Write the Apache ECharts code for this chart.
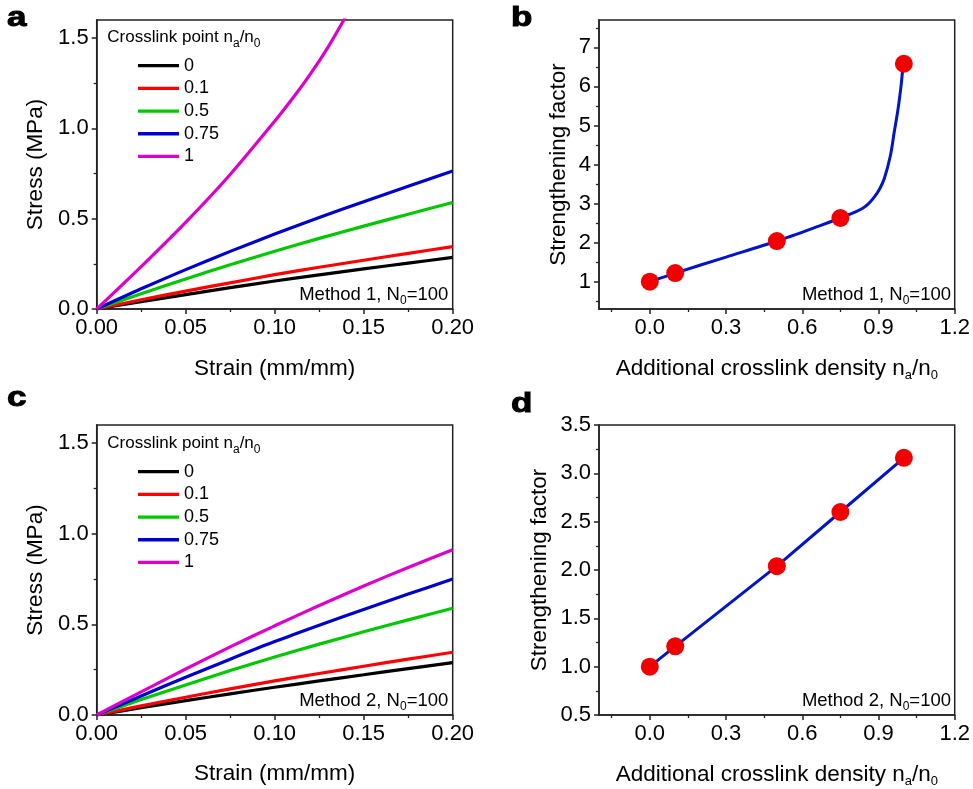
<!DOCTYPE html>
<html>
<head>
<meta charset="utf-8">
<script src="https://cdn.jsdelivr.net/npm/echarts@6/dist/echarts.min.js"></script>
<style>html,body{margin:0;padding:0;background:#fff;}#c{width:973px;height:789px;}</style>
</head>
<body>
<div id="c"></div>
<script>
// ---------- data ----------
const seriesNames = ['0', '0.1', '0.5', '0.75', '1'];
const strain = [0, 0.025, 0.05, 0.075, 0.1, 0.125, 0.15, 0.175, 0.2];
const strainMagentaA = [0, 0.025, 0.05, 0.075, 0.1, 0.11, 0.12, 0.13, 0.14];
// Panel a (Method 1)
const stressA0 = [0, 0.041, 0.080, 0.118, 0.155, 0.189, 0.222, 0.254, 0.286];
const stressA01 = [0, 0.051, 0.099, 0.145, 0.190, 0.231, 0.270, 0.308, 0.345];
const stressA05 = [0, 0.085, 0.166, 0.245, 0.320, 0.391, 0.459, 0.525, 0.590];
const stressA075 = [0, 0.112, 0.218, 0.319, 0.415, 0.506, 0.594, 0.680, 0.764];
const stressA1 = [0, 0.235, 0.480, 0.745, 1.040, 1.165, 1.300, 1.450, 1.620];
// Panel c (Method 2)
const stressC0 = [0, 0.040, 0.079, 0.117, 0.153, 0.188, 0.222, 0.256, 0.289];
const stressC01 = [0, 0.050, 0.098, 0.144, 0.188, 0.229, 0.269, 0.308, 0.346];
const stressC05 = [0, 0.085, 0.166, 0.245, 0.320, 0.391, 0.459, 0.525, 0.589];
const stressC075 = [0, 0.105, 0.208, 0.308, 0.405, 0.495, 0.582, 0.667, 0.750];
const stressC1 = [0, 0.128, 0.254, 0.376, 0.492, 0.604, 0.712, 0.814, 0.912];
// Panels b, d
const density = [0, 0.1, 0.5, 0.75, 1.0];
const factorB = [1.0, 1.22, 2.04, 2.63, 6.58];
const factorD = [1.0, 1.21, 2.04, 2.60, 3.16];
const curveBx = [0, 0.1, 0.3, 0.5, 0.668, 0.75, 0.8, 0.838, 0.86, 0.884, 0.905, 0.923, 0.947, 0.962, 0.977, 0.989, 0.995, 1.0];
const curveBy = [1.0, 1.22, 1.63, 2.04, 2.43, 2.63, 2.76, 2.88, 2.99, 3.17, 3.38, 3.64, 4.23, 4.83, 5.42, 6.02, 6.40, 6.58];
// tick labels
const strainTicks = [0, 0.05, 0.1, 0.15, 0.2];
const strainMinor = [0.025, 0.075, 0.125, 0.175];
const stressTicks = [0, 0.5, 1.0, 1.5];
const stressMinor = [0.25, 0.75, 1.25];
const densityTicks = [0, 0.3, 0.6, 0.9, 1.2];
const densityMinor = [-0.15, 0.15, 0.45, 0.75, 1.05];
const factorBTicks = [1, 2, 3, 4, 5, 6, 7];
const factorBMinor = [0.5, 1.5, 2.5, 3.5, 4.5, 5.5, 6.5, 7.5];
const factorDTicks = [0.5, 1.0, 1.5, 2.0, 2.5, 3.0, 3.5];
const factorDMinor = [0.75, 1.25, 1.75, 2.25, 2.75, 3.25];

// ---------- styling ----------
const FONT = '"Liberation Sans", Arial, sans-serif';
const AX = '#222';
const colors = ['#000000', '#ff0000', '#00c800', '#0000cc', '#dd00cc'];
const zip = (xs, ys) => xs.map((x, i) => [x, ys[i]]);

function mainAxis(g, pos, min, max, ticks, fmt, name, nameGap, rich) {
  return {
    type: 'value', gridIndex: g, position: pos, min: min, max: max,
    axisLine: { show: true, onZero: false, lineStyle: { color: AX, width: 1.5 } },
    axisTick: { show: true, inside: false, length: 5, customValues: ticks, lineStyle: { color: AX, width: 1.5 } },
    axisLabel: { customValues: ticks, formatter: fmt, fontSize: 22, color: '#000', fontFamily: FONT, margin: 8 },
    splitLine: { show: false },
    name: name, nameLocation: 'middle', nameGap: nameGap,
    nameTextStyle: { fontSize: 22.5, color: '#000', fontFamily: FONT, rich: rich || {} }
  };
}
function minorAxis(g, pos, min, max, ticks) {
  return {
    type: 'value', gridIndex: g, position: pos, min: min, max: max,
    axisLine: { show: false, onZero: false },
    axisTick: { show: true, inside: false, length: 3, customValues: ticks, lineStyle: { color: AX, width: 1.3 } },
    axisLabel: { show: false },
    splitLine: { show: false }
  };
}
const subRich = { s: { fontSize: 13, fontFamily: FONT, color: '#000', padding: [14, 0, 0, 0] } };
const f2 = v => v.toFixed(2);
const f1 = v => v.toFixed(1);
const f0 = v => String(Math.round(v));
const densName = 'Additional crosslink density n{s|a}/n{s|0}';

const xAxis = [
  mainAxis(0, 'bottom', 0, 0.2, strainTicks, f2, 'Strain (mm/mm)', 48),
  minorAxis(0, 'bottom', 0, 0.2, strainMinor),
  mainAxis(1, 'bottom', -0.2, 1.2, densityTicks, f1, densName, 46, subRich),
  minorAxis(1, 'bottom', -0.2, 1.2, densityMinor),
  mainAxis(2, 'bottom', 0, 0.2, strainTicks, f2, 'Strain (mm/mm)', 47),
  minorAxis(2, 'bottom', 0, 0.2, strainMinor),
  mainAxis(3, 'bottom', -0.2, 1.2, densityTicks, f1, densName, 46, subRich),
  minorAxis(3, 'bottom', -0.2, 1.2, densityMinor)
];
const yAxis = [
  mainAxis(0, 'left', 0, 1.6, stressTicks, f1, 'Stress (MPa)', 49),
  minorAxis(0, 'left', 0, 1.6, stressMinor),
  mainAxis(1, 'left', 0.3, 7.7, factorBTicks, f0, 'Strengthening factor', 29),
  minorAxis(1, 'left', 0.3, 7.7, factorBMinor),
  mainAxis(2, 'left', 0, 1.6, stressTicks, f1, 'Stress (MPa)', 49),
  minorAxis(2, 'left', 0, 1.6, stressMinor),
  mainAxis(3, 'left', 0.5, 3.5, factorDTicks, f1, 'Strengthening factor', 48),
  minorAxis(3, 'left', 0.5, 3.5, factorDMinor)
];

const gridStyle = { show: true, borderColor: AX, borderWidth: 1.5, backgroundColor: 'transparent' };
const grid = [
  Object.assign({ left: 96.7, top: 20, width: 356, height: 289 }, gridStyle),
  Object.assign({ left: 599, top: 20, width: 356.7, height: 289 }, gridStyle),
  Object.assign({ left: 96.7, top: 425, width: 356, height: 290 }, gridStyle),
  Object.assign({ left: 599, top: 425, width: 356.7, height: 290 }, gridStyle)
];

function stressLine(name, xs, ys, axisIdx, color) {
  return {
    type: 'line', name: name, xAxisIndex: axisIdx, yAxisIndex: axisIdx,
    data: zip(xs, ys), smooth: 0.25, showSymbol: false, symbol: 'none', clip: true,
    lineStyle: { color: color, width: 3.2 }, itemStyle: { color: color }, z: 3
  };
}
const series = [
  stressLine('0', strain, stressA0, 0, colors[0]),
  stressLine('0.1', strain, stressA01, 0, colors[1]),
  stressLine('0.5', strain, stressA05, 0, colors[2]),
  stressLine('0.75', strain, stressA075, 0, colors[3]),
  stressLine('1', strainMagentaA, stressA1, 0, colors[4]),
  stressLine('0', strain, stressC0, 4, colors[0]),
  stressLine('0.1', strain, stressC01, 4, colors[1]),
  stressLine('0.5', strain, stressC05, 4, colors[2]),
  stressLine('0.75', strain, stressC075, 4, colors[3]),
  stressLine('1', strain, stressC1, 4, colors[4]),
  { type: 'line', name: 'curve b', xAxisIndex: 2, yAxisIndex: 2, data: zip(curveBx, curveBy),
    smooth: 0.3, showSymbol: false, symbol: 'none',
    lineStyle: { color: '#0014c8', width: 3 }, z: 3 },
  { type: 'scatter', name: 'points b', xAxisIndex: 2, yAxisIndex: 2, data: zip(density, factorB),
    symbol: 'circle', symbolSize: 18, itemStyle: { color: '#f00000', opacity: 1 }, z: 4 },
  { type: 'line', name: 'line d', xAxisIndex: 6, yAxisIndex: 6, data: zip(density, factorD),
    showSymbol: false, symbol: 'none', lineStyle: { color: '#0014c8', width: 3 }, z: 3 },
  { type: 'scatter', name: 'points d', xAxisIndex: 6, yAxisIndex: 6, data: zip(density, factorD),
    symbol: 'circle', symbolSize: 18, itemStyle: { color: '#f00000', opacity: 1 }, z: 4 }
];

function legendAt(top) {
  return {
    orient: 'vertical', left: 138, top: top, padding: 0, itemGap: 0,
    itemWidth: 41, itemHeight: 3.3, icon: 'rect', selectedMode: false,
    data: seriesNames,
    textStyle: { fontSize: 18, fontFamily: FONT, color: '#000', lineHeight: 22.7 }
  };
}

function txt(x, y, text, size, align) {
  return {
    type: 'text', x: x, y: y,
    style: {
      text: text, fontSize: size, fontFamily: FONT, fill: '#000',
      align: align || 'left', verticalAlign: 'middle',
      rich: { s: { fontSize: 12, fontFamily: FONT, fill: '#000', padding: [12, 0, 0, 0] } }
    }
  };
}
function letter(x, y, t) {
  return {
    type: 'text', x: x, y: y, scaleX: 1.25,
    style: { text: t, fontSize: 28, fontWeight: 'bold', fontFamily: FONT, fill: '#000',
      stroke: '#000', lineWidth: 1, align: 'left', verticalAlign: 'middle' }
  };
}

const graphic = [
  letter(7, 18.6, 'a'),
  letter(511, 18.6, 'b'),
  letter(7, 398.6, 'c'),
  letter(511, 404.5, 'd'),
  txt(107.3, 37.5, 'Crosslink point n{s|a}/n{s|0}', 17, 'left'),
  txt(107.3, 443.3, 'Crosslink point n{s|a}/n{s|0}', 17, 'left'),
  txt(448.3, 295, 'Method 1, N{s|0}=100', 18.5, 'right'),
  txt(448.3, 700.7, 'Method 2, N{s|0}=100', 18.5, 'right'),
  txt(951, 295, 'Method 1, N{s|0}=100', 18.5, 'right'),
  txt(951, 700.7, 'Method 2, N{s|0}=100', 18.5, 'right')
];

const chart = echarts.init(document.getElementById('c'), null, { renderer: 'canvas' });
chart.setOption({
  animation: false,
  backgroundColor: '#fff',
  grid: grid,
  xAxis: xAxis,
  yAxis: yAxis,
  legend: [legendAt(54.3), legendAt(460.3)],
  series: series,
  graphic: graphic
});
</script>
</body>
</html>
